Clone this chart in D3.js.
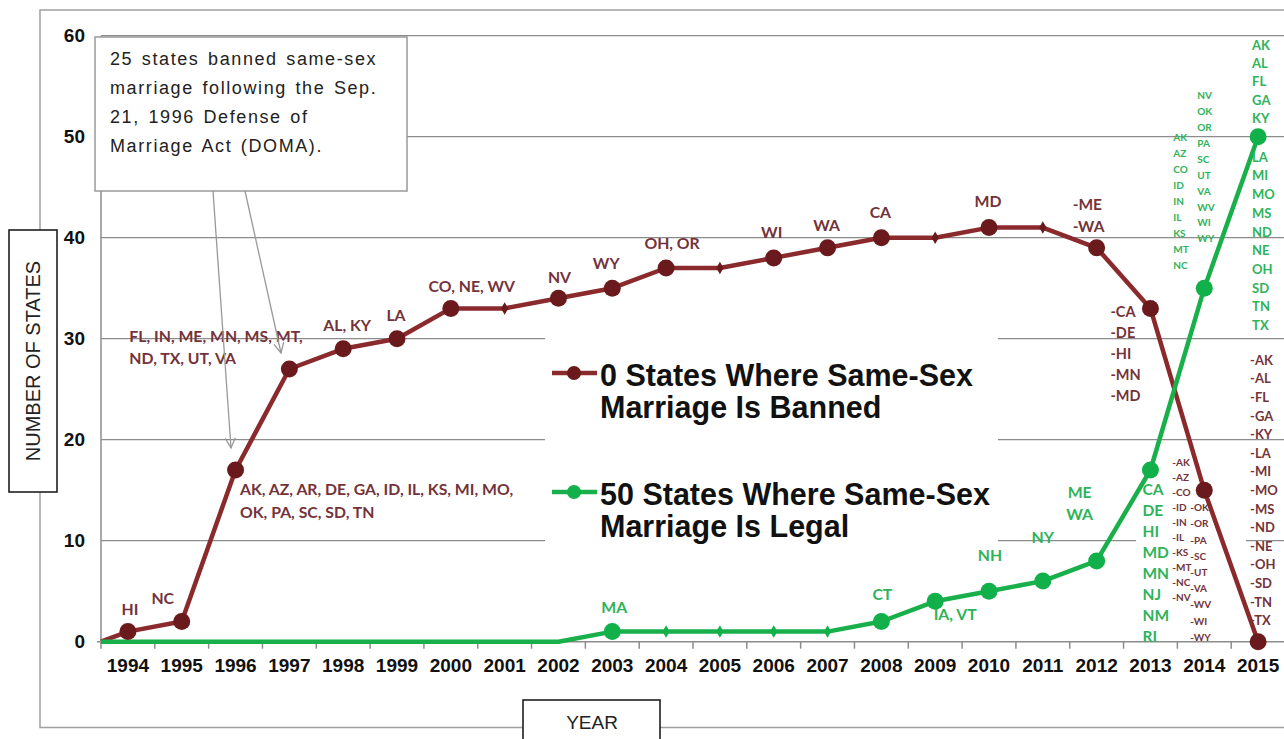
<!DOCTYPE html>
<html>
<head>
<meta charset="utf-8">
<script src="https://cdn.jsdelivr.net/npm/d3@7"></script>
<style>
	body { margin: 0; background: #fff; }
	svg { display: block; }
</style>
</head>
<body>
<div id="chart"></div>
<script>
// ---- data ----
var years = [1994, 1995, 1996, 1997, 1998, 1999, 2000, 2001, 2002, 2003, 2004,
			 2005, 2006, 2007, 2008, 2009, 2010, 2011, 2012, 2013, 2014, 2015];

var bannedValues = [1, 2, 17, 27, 29, 30, 33, 33, 34, 35, 37, 37, 38, 39, 40, 40, 41, 41, 39, 33, 15, 0];
var legalValues  = [0, 0, 0, 0, 0, 0, 0, 0, 0, 1, 1, 1, 1, 1, 2, 4, 5, 6, 8, 17, 35, 50];

var yTicks = [0, 10, 20, 30, 40, 50, 60];

var bannedLabels = [
	["HI"], ["NC"],
	["AK, AZ, AR, DE, GA, ID, IL, KS, MI, MO,", "OK, PA, SC, SD, TN"],
	["FL, IN, ME, MN, MS, MT,", "ND, TX, UT, VA"],
	["AL, KY"], ["LA"], ["CO, NE, WV"], [], ["NV"], ["WY"], ["OH, OR"], [],
	["WI"], ["WA"], ["CA"], [], ["MD"], [],
	["-ME", "-WA"],
	["-CA", "-DE", "-HI", "-MN", "-MD"],
	["-AK", "-AZ", "-CO", "-ID", "-IN", "-IL", "-KS", "-MT", "-NC", "-NV",
	 "-OK", "-OR", "-PA", "-SC", "-UT", "-VA", "-WV", "-WI", "-WY"],
	["-AK", "-AL", "-FL", "-GA", "-KY", "-LA", "-MI", "-MO", "-MS", "-ND",
	 "-NE", "-OH", "-SD", "-TN", "-TX"]
];

var legalLabels = [
	[], [], [], [], [], [], [], [], [], ["MA"], [], [], [], [],
	["CT"], ["IA, VT"], ["NH"], ["NY"], ["ME", "WA"],
	["CA", "DE", "HI", "MD", "MN", "NJ", "NM", "RI"],
	["AK", "AZ", "CO", "ID", "IN", "IL", "KS", "MT", "NC",
	 "NV", "OK", "OR", "PA", "SC", "UT", "VA", "WV", "WI", "WY"],
	["AK", "AL", "FL", "GA", "KY", "LA", "MI", "MO", "MS", "ND",
	 "NE", "OH", "SD", "TN", "TX"]
];

var seriesNames = ["0 States Where Same-Sex|Marriage Is Banned", "50 States Where Same-Sex|Marriage Is Legal"];
var noteLines = ["25 states banned same-sex", "marriage following the Sep.", "21, 1996 Defense of", "Marriage Act (DOMA)."];

// ---- layout ----
var W = 1284, H = 739;
var plot = {left: 101, right: 1285, top: 35.7, bottom: 641.7};

var redLine = "#8a2a2c", redDot = "#6a1a1c", redText = "#74333a";
var greenLine = "#19b04b", greenDot = "#12b04a", greenText = "#2fb35a";
var labelFont = "Lato, 'Open Sans', sans-serif";
var arial = "'Liberation Sans', Arial, sans-serif";

// label placement per series/year: columns of lines, offsets from the point
var layout = {
	b1994: {cols: [{n: 1, dx: 2, dy: -16.6}]},
	b1995: {cols: [{n: 1, dx: -19, dy: -17.5}]},
	b1996: {anchor: "start", cols: [{n: 2, dx: 4.5, dy: 25, lh: 23}]},
	b1997: {anchor: "start", cols: [{n: 2, dx: -160, dy: -27, lh: 22}]},
	b1998: {cols: [{n: 1, dx: 4, dy: -18}]},
	b1999: {cols: [{n: 1, dx: -1, dy: -18}]},
	b2000: {cols: [{n: 1, dx: 21, dy: -16}]},
	b2002: {cols: [{n: 1, dx: 1, dy: -15}]},
	b2003: {cols: [{n: 1, dx: -6, dy: -19}]},
	b2004: {cols: [{n: 1, dx: 6, dy: -19}]},
	b2006: {cols: [{n: 1, dx: -2, dy: -20}]},
	b2007: {cols: [{n: 1, dx: -1, dy: -17}]},
	b2008: {cols: [{n: 1, dx: -1, dy: -20}]},
	b2010: {cols: [{n: 1, dx: -1, dy: -21}]},
	b2012: {anchor: "start", size: 15.5, cols: [{n: 2, dx: -24, dy: -38, lh: 22}]},
	b2013: {anchor: "start", size: 14.5, cols: [{n: 5, dx: -40, dy: 9, lh: 21}]},
	b2014: {anchor: "start", size: 10, cols: [{n: 10, dx: -32, dy: -24, lh: 15}, {n: 9, dx: -14, dy: 21, lh: 16.2}]},
	b2015: {anchor: "start", size: 13, cols: [{n: 15, dx: -8, dy: -277, lh: 18.6}]},
	l2003: {cols: [{n: 1, dx: 2, dy: -19}]},
	l2008: {cols: [{n: 1, dx: 1, dy: -21.5}]},
	l2009: {cols: [{n: 1, dx: 20, dy: 19}]},
	l2010: {cols: [{n: 1, dx: 1, dy: -30}]},
	l2011: {cols: [{n: 1, dx: 0, dy: -38}]},
	l2012: {cols: [{n: 2, dx: -17, dy: -63, lh: 22}]},
	l2013: {anchor: "start", size: 15.5, cols: [{n: 8, dx: -8, dy: 25, lh: 21}]},
	l2014: {anchor: "start", size: 10, cols: [{n: 9, dx: -31, dy: -147, lh: 16}, {n: 10, dx: -7, dy: -189, lh: 15.9}]},
	l2015: {anchor: "start", size: 13, cols: [{n: 5, dx: -6, dy: -87, lh: 18.3}, {n: 10, dx: -6, dy: 25, lh: 18.7}]}
};

var svg = d3.select("#chart").append("svg")
	.attr("width", W)
	.attr("height", H);

var defs = svg.append("defs");
defs.append("marker")
	.attr("id", "arrow")
	.attr("viewBox", "0 0 12 12")
	.attr("refX", 11).attr("refY", 6)
	.attr("markerWidth", 12).attr("markerHeight", 12)
	.attr("markerUnits", "userSpaceOnUse")
	.attr("orient", "auto")
	.append("path")
	.attr("d", "M1,1 L11,6 L1,11")
	.attr("fill", "none")
	.attr("stroke", "#999")
	.attr("stroke-width", 1.3);

var x = d3.scaleBand().domain(years).range([plot.left, plot.right]);
var y = d3.scaleLinear().domain([0, 60]).range([plot.bottom, plot.top]);
function cx(yr) { return x(yr) + x.bandwidth() / 2; }

// outer chart frame
svg.append("rect")
	.attr("x", 40).attr("y", 10)
	.attr("width", 1300).attr("height", 717.5)
	.attr("fill", "none")
	.attr("stroke", "#a0a0a0")
	.attr("stroke-width", 1.5);

// gridlines
svg.append("g").selectAll("line")
	.data(yTicks.slice(1))
	.enter().append("line")
	.attr("x1", plot.left).attr("x2", W)
	.attr("y1", function(d) { return y(d); })
	.attr("y2", function(d) { return y(d); })
	.attr("stroke", "#8c8c8c")
	.attr("stroke-width", 1.3);

// axis lines
svg.append("line")
	.attr("x1", plot.left).attr("x2", plot.left)
	.attr("y1", y(60)).attr("y2", plot.bottom)
	.attr("stroke", "#8c8c8c").attr("stroke-width", 1.5);
svg.append("line")
	.attr("x1", plot.left - 4).attr("x2", W)
	.attr("y1", plot.bottom).attr("y2", plot.bottom)
	.attr("stroke", "#8c8c8c").attr("stroke-width", 1.5);

// x tick marks at category boundaries
svg.append("g").selectAll("line")
	.data(years)
	.enter().append("line")
	.attr("x1", function(d) { return x(d); })
	.attr("x2", function(d) { return x(d); })
	.attr("y1", plot.bottom).attr("y2", plot.bottom + 7)
	.attr("stroke", "#8c8c8c").attr("stroke-width", 1.5);

// tick labels
var xAxis = svg.append("g")
	.attr("transform", "translate(0," + plot.bottom + ")")
	.call(d3.axisBottom(x).tickSize(0).tickPadding(17));
xAxis.select(".domain").remove();
xAxis.selectAll("text")
	.attr("font-family", arial).attr("font-weight", "bold")
	.attr("font-size", 19).attr("fill", "#111");

var yAxis = svg.append("g")
	.attr("transform", "translate(" + (plot.left - 16) + ",0)")
	.call(d3.axisLeft(y).tickValues(yTicks).tickSize(0).tickPadding(0));
yAxis.select(".domain").remove();
yAxis.selectAll("text")
	.attr("font-family", arial).attr("font-weight", "bold")
	.attr("font-size", 19).attr("fill", "#111");

// white backgrounds behind the legend and the dense 2013/2014 labels
svg.append("rect").attr("x", 545).attr("y", 330).attr("width", 453).attr("height", 218).attr("fill", "#fff");
svg.append("rect").attr("x", 1136).attr("y", 478).attr("width", 110).attr("height", 160).attr("fill", "#fff");

// series
var series = [
	{key: "b", values: bannedValues, labels: bannedLabels, line: redLine, dot: redDot, text: redText},
	{key: "l", values: legalValues, labels: legalLabels, line: greenLine, dot: greenDot, text: greenText}
];

var line = d3.line()
	.x(function(d) { return d.x; })
	.y(function(d) { return y(d.v); });

series.forEach(function(s) {
	// line starts at the axis origin like the original
	var pts = [{x: plot.left, v: 0}].concat(years.map(function(yr, i) { return {x: cx(yr), v: s.values[i]}; }));
	svg.append("path")
		.attr("d", line(pts))
		.attr("fill", "none")
		.attr("stroke", s.line)
		.attr("stroke-width", 4.5)
		.attr("stroke-linejoin", "round");
});

series.forEach(function(s) {
	var g = svg.append("g");
	years.forEach(function(yr, i) {
		var v = s.values[i], labs = s.labels[i];
		if (v === 0 && labs.length === 0) return;
		var px = cx(yr), py = y(v);
		if (labs.length) {
			g.append("circle").attr("cx", px).attr("cy", py).attr("r", 8.5).attr("fill", s.dot);
		} else {
			g.append("path")
				.attr("d", d3.symbol().type(d3.symbolDiamond).size(45)())
				.attr("transform", "translate(" + px + "," + py + ")")
				.attr("fill", s.dot);
		}
	});
});

// data labels
series.forEach(function(s) {
	var g = svg.append("g");
	years.forEach(function(yr, i) {
		var labs = s.labels[i];
		if (!labs.length) return;
		var lay = layout[s.key + yr];
		var px = cx(yr), py = y(s.values[i]);
		var k = 0;
		lay.cols.forEach(function(c) {
			for (var j = 0; j < c.n; j++, k++) {
				g.append("text")
					.attr("x", px + c.dx)
					.attr("y", py + c.dy + j * (c.lh || 0))
					.attr("text-anchor", lay.anchor || "middle")
					.attr("font-family", labelFont)
					.attr("font-weight", "bold")
					.attr("font-size", lay.size || 15.8)
					.attr("fill", s.text)
					.text(labs[k]);
			}
		});
	});
});

// legend
var legend = svg.append("g");
[{y: 373, c: redLine, d: redDot}, {y: 492, c: greenLine, d: greenDot}].forEach(function(l, i) {
	legend.append("line")
		.attr("x1", 552).attr("x2", 597)
		.attr("y1", l.y).attr("y2", l.y)
		.attr("stroke", l.c).attr("stroke-width", 4.5);
	legend.append("circle").attr("cx", 574).attr("cy", l.y).attr("r", 7).attr("fill", l.d);
	seriesNames[i].split("|").forEach(function(t, j) {
		legend.append("text")
			.attr("x", 600)
			.attr("y", l.y + 13 + j * 32)
			.attr("font-family", arial)
			.attr("font-weight", "bold")
			.attr("font-size", 30.5)
			.attr("fill", "#111")
			.text(t);
	});
});

// DOMA note with arrows
svg.append("line").attr("x1", 213).attr("y1", 191).attr("x2", 231).attr("y2", 448)
	.attr("stroke", "#999").attr("stroke-width", 1.3).attr("marker-end", "url(#arrow)");
svg.append("line").attr("x1", 245).attr("y1", 191).attr("x2", 281).attr("y2", 353)
	.attr("stroke", "#999").attr("stroke-width", 1.3).attr("marker-end", "url(#arrow)");
svg.append("rect")
	.attr("x", 95).attr("y", 37).attr("width", 312).attr("height", 154)
	.attr("fill", "#fff").attr("stroke", "#999").attr("stroke-width", 1.5);
noteLines.forEach(function(t, i) {
	svg.append("text")
		.attr("x", 110).attr("y", 65 + i * 29)
		.attr("font-family", arial)
		.attr("font-size", 18)
		.attr("letter-spacing", 1.6)
		.attr("word-spacing", 2)
		.attr("fill", "#222")
		.text(t);
});

// axis title boxes
svg.append("rect").attr("x", 9).attr("y", 230).attr("width", 48).attr("height", 262)
	.attr("fill", "#fff").attr("stroke", "#111").attr("stroke-width", 1.5);
svg.append("text")
	.attr("transform", "translate(40,361)rotate(-90)")
	.attr("text-anchor", "middle")
	.attr("font-family", arial).attr("font-size", 20).attr("fill", "#222")
	.text("NUMBER OF STATES");

svg.append("rect").attr("x", 523).attr("y", 700).attr("width", 137).attr("height", 50)
	.attr("fill", "#fff").attr("stroke", "#111").attr("stroke-width", 1.5);
svg.append("text")
	.attr("x", 592).attr("y", 729)
	.attr("text-anchor", "middle")
	.attr("font-family", arial).attr("font-size", 19).attr("fill", "#222")
	.text("YEAR");
</script>
</body>
</html>
